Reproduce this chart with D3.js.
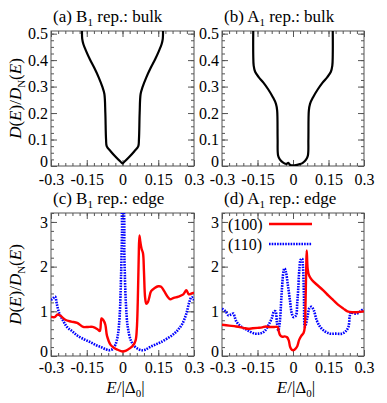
<!DOCTYPE html>
<html>
<head>
<meta charset="utf-8">
<script src="https://cdn.jsdelivr.net/npm/d3@7"></script>
<style>
body { margin: 0; background: #fff; }
svg { display: block; font-family: "Liberation Serif", "Times New Roman", serif; }
</style>
</head>
<body>
<svg id="chart" width="387" height="403"></svg>
<script>
// tick values / labels
var xTicks = [-0.3, -0.15, 0, 0.15, 0.3];
var xTickLabels = ["-0.3", "-0.15", "0", "0.15", "0.3"];
var bulkYTicks = [0, 0.1, 0.2, 0.3, 0.4, 0.5];
var bulkYLabels = ["0", "0.1", "0.2", "0.3", "0.4", "0.5"];
var edgeYTicks = [0, 1, 2, 3];
var edgeYLabels = ["0", "1", "2", "3"];

// (a) B1 rep. bulk  [E, D]
var b1Bulk = [[-0.17,0.51],[-0.169,0.48],[-0.164,0.46],[-0.153,0.435],[-0.138,0.405],[-0.118,0.37],[-0.1,0.335],[-0.084,0.298],[-0.076,0.272],[-0.072,0.2],[-0.069,0.1],[-0.066,0.074],[-0.05,0.056],[-0.03,0.036],[-0.01,0.018],[0,0.01],[0.01,0.018],[0.03,0.036],[0.05,0.056],[0.066,0.074],[0.069,0.1],[0.072,0.2],[0.076,0.272],[0.084,0.298],[0.1,0.335],[0.118,0.37],[0.138,0.405],[0.153,0.435],[0.164,0.46],[0.169,0.48],[0.17,0.51]];

// (b) A1 rep. bulk
var a1Bulk = [[-0.168,0.51],[-0.168,0.42],[-0.166,0.378],[-0.16,0.356],[-0.145,0.336],[-0.125,0.315],[-0.105,0.29],[-0.085,0.26],[-0.072,0.235],[-0.067,0.21],[-0.065,0.1],[-0.063,0.04],[-0.055,0.024],[-0.04,0.012],[-0.027,0.008],[-0.02,0.012],[-0.012,0.004],[0,0.002],[0.012,0.003],[0.025,0.006],[0.04,0.011],[0.055,0.024],[0.063,0.04],[0.065,0.1],[0.067,0.21],[0.072,0.235],[0.085,0.26],[0.105,0.29],[0.125,0.315],[0.145,0.336],[0.16,0.356],[0.166,0.378],[0.168,0.42],[0.168,0.51]];

// (c) B1 rep. edge
var b1Edge100 = [[-0.3,0.88],[-0.285,0.87],[-0.272,0.93],[-0.26,0.9],[-0.24,0.81],[-0.215,0.77],[-0.19,0.74],[-0.165,0.65],[-0.145,0.65],[-0.125,0.65],[-0.105,0.6],[-0.095,0.56],[-0.088,0.84],[-0.08,0.8],[-0.072,0.7],[-0.065,0.45],[-0.05,0.25],[-0.035,0.18],[-0.02,0.14],[0,0.1],[0.015,0.12],[0.03,0.17],[0.045,0.24],[0.055,0.35],[0.06,0.6],[0.064,1.2],[0.068,2.2],[0.071,2.7],[0.075,2.55],[0.08,2.4],[0.086,2.3],[0.09,1.9],[0.095,1.3],[0.1,1.17],[0.106,1.2],[0.112,1.3],[0.12,1.45],[0.135,1.52],[0.15,1.56],[0.162,1.55],[0.175,1.45],[0.19,1.32],[0.2,1.27],[0.215,1.3],[0.235,1.33],[0.255,1.38],[0.268,1.47],[0.278,1.38],[0.29,1.4],[0.3,1.42]];
var b1Edge110 = [[-0.3,1.25],[-0.29,1.3],[-0.283,1.33],[-0.275,1.15],[-0.265,0.95],[-0.25,0.8],[-0.233,0.65],[-0.21,0.55],[-0.19,0.46],[-0.16,0.37],[-0.135,0.31],[-0.11,0.24],[-0.09,0.2],[-0.07,0.15],[-0.055,0.13],[-0.04,0.16],[-0.03,0.25],[-0.02,0.45],[-0.012,0.9],[-0.006,1.8],[-0.002,2.8],[0,3.3],[0.003,3.3],[0.008,2.2],[0.014,1.2],[0.022,0.65],[0.035,0.35],[0.05,0.22],[0.065,0.16],[0.08,0.13],[0.095,0.14],[0.115,0.2],[0.14,0.26],[0.161,0.31],[0.19,0.4],[0.217,0.5],[0.235,0.6],[0.252,0.73],[0.268,0.95],[0.28,1.2],[0.29,1.32],[0.3,1.25]];

// (d) A1 rep. edge
var a1Edge100 = [[-0.3,0.7],[-0.27,0.68],[-0.24,0.66],[-0.21,0.63],[-0.19,0.61],[-0.17,0.62],[-0.15,0.63],[-0.13,0.64],[-0.115,0.66],[-0.1,0.65],[-0.08,0.65],[-0.065,0.65],[-0.06,0.55],[-0.055,0.47],[-0.045,0.43],[-0.035,0.44],[-0.025,0.42],[-0.018,0.35],[-0.012,0.2],[-0.005,0.14],[0.002,0.13],[0.01,0.16],[0.018,0.22],[0.026,0.36],[0.035,0.45],[0.045,0.52],[0.05,0.65],[0.053,1.2],[0.056,2.0],[0.058,2.36],[0.062,1.95],[0.068,1.8],[0.08,1.7],[0.1,1.6],[0.128,1.47],[0.15,1.35],[0.17,1.25],[0.19,1.15],[0.213,1.06],[0.23,1.0],[0.25,0.98],[0.27,0.98],[0.3,1.0]];
var a1Edge110 = [[-0.3,1.06],[-0.285,1.0],[-0.273,0.91],[-0.262,0.93],[-0.252,0.95],[-0.245,0.85],[-0.238,0.76],[-0.22,0.66],[-0.2,0.6],[-0.18,0.54],[-0.16,0.5],[-0.145,0.5],[-0.13,0.52],[-0.118,0.57],[-0.105,0.68],[-0.09,0.84],[-0.08,1.0],[-0.074,1.0],[-0.068,0.75],[-0.062,0.57],[-0.056,0.75],[-0.048,1.4],[-0.04,1.9],[-0.036,1.96],[-0.03,1.88],[-0.022,1.6],[-0.013,1.25],[-0.005,0.95],[0.002,0.87],[0.012,0.9],[0.018,1.2],[0.022,1.5],[0.027,1.95],[0.032,2.15],[0.038,2.18],[0.042,2.0],[0.046,1.4],[0.05,0.65],[0.055,0.72],[0.062,0.9],[0.07,1.08],[0.078,1.1],[0.088,1.02],[0.1,0.8],[0.115,0.65],[0.135,0.55],[0.156,0.5],[0.18,0.5],[0.206,0.5],[0.222,0.55],[0.234,0.65],[0.24,0.9],[0.245,0.98],[0.258,0.95],[0.27,0.95],[0.285,1.0],[0.3,1.06]];

var svg = d3.select("#chart");
var serif = "'Liberation Serif', 'Times New Roman', serif";

var panels = [
    {id: "a", x0: 51, x1: 194, y0: 31, y1: 166, ymax: 0.51, yt: bulkYTicks, yl: bulkYLabels, ymin: 0.025,
     title: ["(a) B", "1", " rep.: bulk"], ylab: true, xlab: false,
     series: [{d: b1Bulk, color: "#000", dash: null, w: 2.2}]},
    {id: "b", x0: 222, x1: 364, y0: 31, y1: 166, ymax: 0.51, yt: bulkYTicks, yl: bulkYLabels, ymin: 0.025,
     title: ["(b) A", "1", " rep.: bulk"], ylab: false, xlab: false,
     series: [{d: a1Bulk, color: "#000", dash: null, w: 2.2}]},
    {id: "c", x0: 51, x1: 194, y0: 213, y1: 356, ymax: 3.2, yt: edgeYTicks, yl: edgeYLabels, ymin: 0.2,
     title: ["(c) B", "1", " rep.: edge"], ylab: true, xlab: true,
     series: [{d: b1Edge110, color: "#0000ff", dash: "1.6,1.1", w: 2.6},
              {d: b1Edge100, color: "#ff0000", dash: null, w: 2.4}]},
    {id: "d", x0: 222, x1: 364, y0: 213, y1: 356, ymax: 3.2, yt: edgeYTicks, yl: edgeYLabels, ymin: 0.2,
     title: ["(d) A", "1", " rep.: edge"], ylab: false, xlab: true, legend: true,
     series: [{d: a1Edge110, color: "#0000ff", dash: "1.6,1.1", w: 2.6},
              {d: a1Edge100, color: "#ff0000", dash: null, w: 2.4}]}
];

var xMinor = d3.range(-0.3, 0.3001, 0.03);

function styleAxis(s) {
    s.select(".domain").remove();
    s.attr("font-family", serif).attr("font-size", 16);
    s.selectAll(".tick line").attr("stroke", "#555");
    s.selectAll(".tick text").attr("fill", "#000");
}

panels.forEach(function(p) {
    var x = d3.scaleLinear().domain([-0.3, 0.3]).range([p.x0, p.x1]);
    var y = d3.scaleLinear().domain([0, p.ymax]).range([p.y1, p.y0]);
    var yMinor = d3.range(0, p.ymax + 1e-9, p.ymin);
    var g = svg.append("g");

    g.append("clipPath").attr("id", "clip-" + p.id)
        .append("rect").attr("x", p.x0).attr("y", p.y0)
        .attr("width", p.x1 - p.x0).attr("height", p.y1 - p.y0);

    // minor ticks, all four sides
    var mk = [
        d3.axisBottom(x).tickValues(xMinor).tickFormat("").tickSizeInner(-3).tickSizeOuter(0),
        d3.axisTop(x).tickValues(xMinor).tickFormat("").tickSizeInner(-3).tickSizeOuter(0),
        d3.axisLeft(y).tickValues(yMinor).tickFormat("").tickSizeInner(-3).tickSizeOuter(0),
        d3.axisRight(y).tickValues(yMinor).tickFormat("").tickSizeInner(-3).tickSizeOuter(0)
    ];
    var pos = ["translate(0," + p.y1 + ")", "translate(0," + p.y0 + ")",
               "translate(" + p.x0 + ",0)", "translate(" + p.x1 + ",0)"];
    mk.forEach(function(ax, i) {
        g.append("g").attr("transform", pos[i]).call(ax).call(styleAxis);
    });

    // major ticks with labels
    g.append("g").attr("transform", pos[0])
        .call(d3.axisBottom(x).tickValues(xTicks).tickSizeInner(-6).tickSizeOuter(0)
            .tickPadding(p.xlab ? 6 : 8)
            .tickFormat(function(d, i) { return xTickLabels[i]; }))
        .call(styleAxis);
    g.append("g").attr("transform", pos[1])
        .call(d3.axisTop(x).tickValues(xTicks).tickSizeInner(-6).tickSizeOuter(0).tickFormat(""))
        .call(styleAxis);
    g.append("g").attr("transform", pos[2])
        .call(d3.axisLeft(y).tickValues(p.yt).tickSizeInner(-6).tickSizeOuter(0).tickPadding(3)
            .tickFormat(function(d, i) { return p.yl[i]; }))
        .call(styleAxis)
        .selectAll(".tick text").attr("dy", function(d) { return d === 0 ? "0.05em" : "0.32em"; });
    g.append("g").attr("transform", pos[3])
        .call(d3.axisRight(y).tickValues(p.yt).tickSizeInner(-6).tickSizeOuter(0).tickFormat(""))
        .call(styleAxis);

    // frame
    g.append("rect").attr("x", p.x0).attr("y", p.y0)
        .attr("width", p.x1 - p.x0).attr("height", p.y1 - p.y0)
        .attr("fill", "none").attr("stroke", "#555").attr("stroke-width", 1);

    var line = d3.line()
        .x(function(d) { return x(d[0]); })
        .y(function(d) { return y(d[1]); })
        .curve(d3.curveCatmullRom.alpha(0.5));

    p.series.forEach(function(s) {
        g.append("path").datum(s.d)
            .attr("clip-path", "url(#clip-" + p.id + ")")
            .attr("d", line)
            .attr("fill", "none")
            .attr("stroke", s.color)
            .attr("stroke-width", s.w)
            .attr("stroke-dasharray", s.dash)
            .attr("stroke-linejoin", "round");
    });

    // title
    var t = g.append("text").attr("x", p.x0 + 2).attr("y", p.y0 - 9)
        .attr("font-size", 17);
    t.append("tspan").text(p.title[0]);
    t.append("tspan").attr("font-size", 11).attr("dy", 4).text(p.title[1]);
    t.append("tspan").attr("dy", -4).text(p.title[2]);

    if (p.ylab) {
        var yl = g.append("text")
            .attr("transform", "translate(" + 21 + "," + ((p.y0 + p.y1) / 2) + ") rotate(-90)")
            .attr("text-anchor", "middle").attr("font-size", 17);
        yl.append("tspan").attr("font-style", "italic").text("D");
        yl.append("tspan").text("(");
        yl.append("tspan").attr("font-style", "italic").text("E");
        yl.append("tspan").text(")/");
        yl.append("tspan").attr("font-style", "italic").text("D");
        yl.append("tspan").attr("font-size", 11).attr("dy", 4).text("N");
        yl.append("tspan").attr("dy", -4).text("(");
        yl.append("tspan").attr("font-style", "italic").text("E");
        yl.append("tspan").text(")");
    }

    if (p.xlab) {
        var xl = g.append("text")
            .attr("x", (p.x0 + p.x1) / 2 + 3).attr("y", p.y1 + 37)
            .attr("text-anchor", "middle").attr("font-size", 17);
        xl.append("tspan").attr("font-style", "italic").text("E");
        xl.append("tspan").text("/|\u0394");
        xl.append("tspan").attr("font-size", 11).attr("dy", 4).text("0");
        xl.append("tspan").attr("dy", -4).text("|");
    }

    if (p.legend) {
        var items = [{label: "(100)", color: "#ff0000", dash: null, w: 2.4},
                     {label: "(110)", color: "#0000ff", dash: "1.6,1.1", w: 2.6}];
        items.forEach(function(it, i) {
            var ly = p.y0 + 12 + i * 20;
            g.append("text").attr("x", p.x0 + 6).attr("y", ly + 5)
                .attr("font-size", 16).text(it.label);
            g.append("line").attr("x1", p.x0 + 47).attr("x2", p.x0 + 90)
                .attr("y1", ly - 1).attr("y2", ly - 1)
                .attr("stroke", it.color).attr("stroke-width", it.w)
                .attr("stroke-dasharray", it.dash);
        });
    }
});
</script>
</body>
</html>
